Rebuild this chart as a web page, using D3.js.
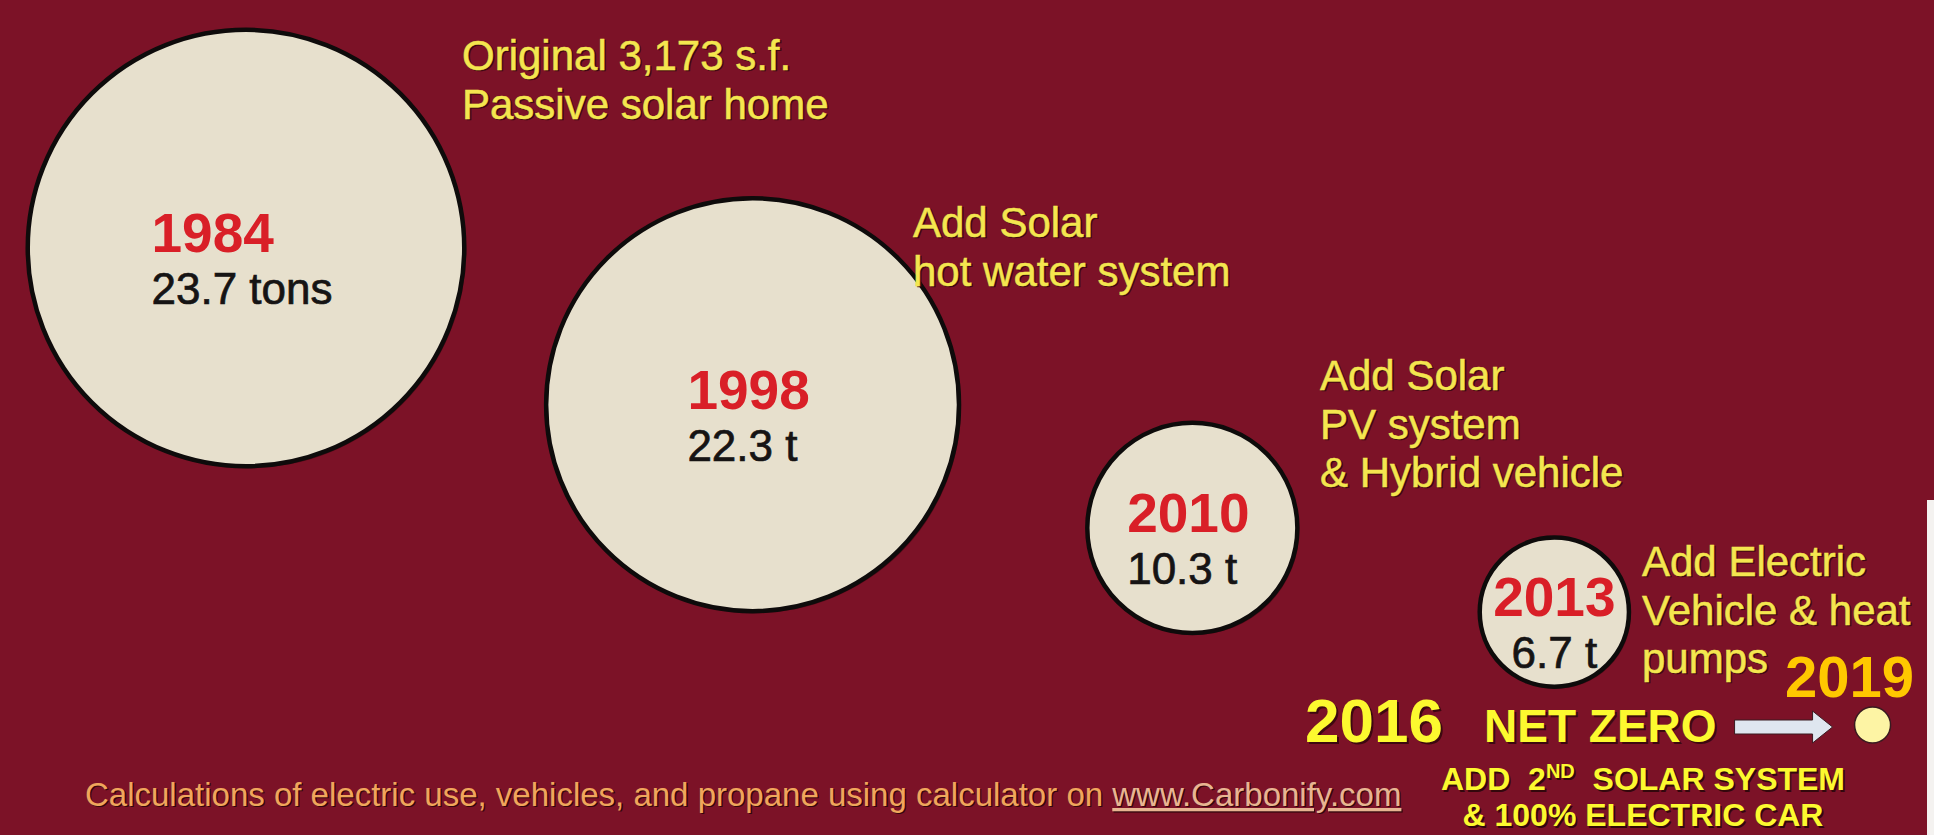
<!DOCTYPE html>
<html>
<head>
<meta charset="utf-8">
<script src="https://cdn.jsdelivr.net/npm/d3@7"></script>
<style>
  html, body { margin: 0; padding: 0; background: #7c1227; }
  svg { display: block; }
  text { font-family: "Liberation Sans", Arial, sans-serif; }
</style>
</head>
<body>
<svg id="chart" width="1934" height="835"></svg>
<script>
// Household carbon footprint by milestone year (tons CO2 per year)
const years = [1984, 1998, 2010, 2013];
const tons = [23.7, 22.3, 10.3, 6.7];
const units = ["tons", "t", "t", "t"];
const milestones = [
  ["Original 3,173 s.f.", "Passive solar home"],
  ["Add Solar", "hot water system"],
  ["Add Solar", "PV system", "& Hybrid vehicle"],
  ["Add Electric", "Vehicle & heat", "pumps"]
];
const netZeroStart = 2016;
const netZeroYear = 2019;
const netZeroTons = 0;
const footnote = "Calculations of electric use, vehicles, and propane using calculator on ";
const footnoteLink = "www.Carbonify.com";

// ---- layout & style ----
const W = 1934, H = 835;
const C = {
  bg: "#7c1227", disc: "#e7e0cd", discStroke: "#0e0b0b",
  year: "#d91f27", value: "#161414",
  note: "#f4e64f", shadow: "#33070c",
  bright: "#fcf92f", gold: "#ffc800", foot: "#f0a65c", link: "#e8b592",
  arrow: "#dfe6ef", dot: "#fdf4a4"
};
const noteAnchors = [[462, 70], [913, 237], [1320, 390], [1642, 576]];
const noteLine = 48.5;

const svg = d3.select("#chart");
svg.append("rect").attr("width", W).attr("height", H).attr("fill", C.bg);
svg.append("rect").attr("x", 1927).attr("y", 500).attr("width", 7).attr("height", H - 500).attr("fill", "#f4f2f0");

// bubble radius from tons
const r = d3.scaleLinear().domain([0, 25]).range([18, 229.25]);

// chain the bubbles down and to the right
const nodes = [];
let cx = 246, cy = 248;
tons.forEach((v, i) => {
  if (i > 0) {
    const s = r(tons[i - 1]) + r(v);
    cx += s * 0.59 + 256;
    cy += s * 0.296 + 31;
  }
  nodes.push({ year: years[i], v, unit: units[i], cx, cy, rad: r(v) });
});

// text with a dark drop shadow
function shadowText(g, x, y, str, size, weight, fill, off, thick) {
  const o = off == null ? 1.6 : off;
  g.append("text").attr("x", x + o).attr("y", y + o).attr("font-size", size)
    .attr("font-weight", weight).attr("fill", C.shadow).attr("opacity", 0.85)
    .attr("stroke", C.shadow).attr("stroke-width", thick || 0).text(str);
  return g.append("text").attr("x", x).attr("y", y).attr("font-size", size)
    .attr("font-weight", weight).attr("fill", fill)
    .attr("stroke", fill).attr("stroke-width", thick || 0).text(str);
}

const bubbles = svg.append("g");
nodes.forEach(d => {
  const g = bubbles.append("g");
  g.append("circle").attr("cx", d.cx + 2).attr("cy", d.cy + 2).attr("r", d.rad)
    .attr("fill", "#2a0509").attr("opacity", 0.5);
  g.append("circle").attr("cx", d.cx).attr("cy", d.cy).attr("r", d.rad)
    .attr("fill", C.disc).attr("stroke", C.discStroke).attr("stroke-width", 4.5);
  const yt = g.append("text").attr("y", d.cy + 4).attr("font-size", 55)
    .attr("font-weight", "bold").attr("fill", C.year).text(d.year);
  const vt = g.append("text").attr("y", d.cy + 56).attr("font-size", 44)
    .attr("fill", C.value).attr("stroke", C.value).attr("stroke-width", 0.7)
    .text(d3.format(".1f")(d.v) + " " + d.unit);
  if (d.rad < 100) {
    // small bubble: centre each line
    yt.attr("x", d.cx).attr("text-anchor", "middle");
    vt.attr("x", d.cx).attr("text-anchor", "middle");
  } else {
    // large bubble: left-aligned block centred in the disc
    const w = Math.max(yt.node().getComputedTextLength(), vt.node().getComputedTextLength());
    const x0 = d.cx - w / 2 - 4;
    yt.attr("x", x0); vt.attr("x", x0);
  }
});

// milestone notes
const notes = svg.append("g");
milestones.forEach((lines, i) => {
  const [nx, ny] = noteAnchors[i];
  lines.forEach((ln, j) => shadowText(notes, nx, ny + j * noteLine, ln, 42, "normal", C.note, 1.4, 0.5));
});

// net zero line
const nz = svg.append("g");
shadowText(nz, 1305, 742, String(netZeroStart), 62, "bold", C.bright, 2);
const nzt = shadowText(nz, 1484, 742, "NET ZERO", 46, "bold", C.bright, 2);
const ax0 = 1484 + nzt.node().getComputedTextLength() + 18;
const ay = 727, aLen = 98;
const arrow = d3.path();
arrow.moveTo(ax0, ay - 7); arrow.lineTo(ax0 + aLen - 20, ay - 7); arrow.lineTo(ax0 + aLen - 20, ay - 16);
arrow.lineTo(ax0 + aLen, ay); arrow.lineTo(ax0 + aLen - 20, ay + 16); arrow.lineTo(ax0 + aLen - 20, ay + 7);
arrow.lineTo(ax0, ay + 7); arrow.closePath();
nz.append("path").attr("d", arrow.toString()).attr("fill", C.arrow).attr("stroke", "#3a1a20").attr("stroke-width", 1);
const dotR = r(netZeroTons);
const dotX = ax0 + aLen + 22 + dotR;
nz.append("circle").attr("cx", dotX).attr("cy", ay - 2).attr("r", dotR)
  .attr("fill", C.dot).attr("stroke", "#3a1a20").attr("stroke-width", 1.5);
nz.append("text").attr("x", 1914).attr("y", 697).attr("text-anchor", "end")
  .attr("font-size", 58).attr("font-weight", "bold").attr("fill", C.gold).text(netZeroYear);

// 2016 additions
const add = svg.append("g");
function addLine(y, parts) {
  const o = 1.6;
  [[o, C.shadow], [0, C.bright]].forEach(([off, col]) => {
    const t = add.append("text").attr("x", 1643 + off).attr("y", y + off).attr("text-anchor", "middle")
      .attr("font-size", 32).attr("font-weight", "bold").attr("fill", col)
      .style("white-space", "pre");
    parts.forEach(p => {
      const ts = t.append("tspan").text(p.s);
      if (p.sup) ts.attr("font-size", 20).attr("dy", -12);
      if (p.down) ts.attr("dy", 12);
    });
  });
}
addLine(790, [{ s: "ADD  2" }, { s: "ND", sup: true }, { s: "  SOLAR SYSTEM", down: true }]);
addLine(826, [{ s: "& 100% ELECTRIC CAR" }]);

// footnote
const ft = svg.append("g");
[[1.3, C.shadow], [0, null]].forEach(([off, col]) => {
  const t = ft.append("text").attr("x", 85 + off).attr("y", 806 + off).attr("font-size", 33)
    .attr("fill", col || C.foot);
  t.append("tspan").text(footnote);
  t.append("tspan").attr("fill", col || C.link).style("text-decoration", "underline").text(footnoteLink);
});
</script>
</body>
</html>
